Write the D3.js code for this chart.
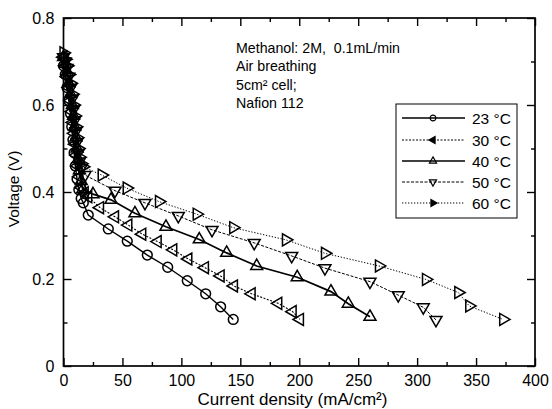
<!DOCTYPE html>
<html>
<head>
<meta charset="utf-8">
<script src="https://cdn.jsdelivr.net/npm/d3@7"></script>
<style>
  html, body { margin: 0; padding: 0; background: #fff; }
  svg { display: block; font-family: "Liberation Sans", Arial, sans-serif; }
</style>
</head>
<body>
<svg id="chart" width="552" height="409"></svg>
<script>
// Polarization curves of an air-breathing DMFC at several cell temperatures
const seriesNames = ["23 °C", "30 °C", "40 °C", "50 °C", "60 °C"];

const t23 = [[0,0.69],[1.5,0.67],[3,0.64],[4.5,0.61],[6,0.58],[7,0.55],[8,0.52],[9,0.49],[10,0.46],[11.5,0.43],[13,0.405],[15,0.385],[16.8,0.375],
  [21,0.347],[38,0.315],[54.1,0.287],[71.1,0.255],[88.4,0.227],[105,0.196],[120.6,0.166],[133.3,0.136],[144,0.107]];
const t30 = [[0,0.71],[1.5,0.69],[3,0.665],[4.5,0.64],[6,0.61],[7,0.585],[8,0.56],[9,0.535],[10,0.51],[11,0.485],[12,0.46],[13.5,0.435],[15.5,0.41],[18,0.398],
  [21,0.389],[31,0.364],[43.7,0.343],[55,0.324],[66.8,0.303],[79.9,0.286],[93.1,0.267],[105.9,0.246],[120,0.226],[133.3,0.207],[144.6,0.184],[159.6,0.166],[182.2,0.144],[194.4,0.125],[200.6,0.107]];
const t40 = [[0,0.71],[1.5,0.695],[3,0.675],[4.5,0.65],[6,0.625],[7.5,0.60],[8.5,0.575],[9.5,0.55],[10.5,0.525],[11.5,0.50],[12.5,0.475],[13.5,0.45],[15,0.425],[16.3,0.406],
  [25,0.395],[40.3,0.382],[60.6,0.351],[86.9,0.320],[115.2,0.291],[138.4,0.260],[163.9,0.230],[198.3,0.204],[226.9,0.171],[241.6,0.143],[260,0.113]];
const t50 = [[0,0.71],[1.5,0.70],[3,0.685],[4.5,0.665],[6,0.64],[7.5,0.615],[8.5,0.59],[9.5,0.565],[10.5,0.54],[11.5,0.515],[12.5,0.49],[13.5,0.47],[15,0.455],[18.2,0.439],
  [43.7,0.403],[69.1,0.375],[97.4,0.345],[126,0.313],[161.8,0.283],[193.6,0.253],[221.8,0.225],[260,0.194],[284,0.163],[305.2,0.135],[316,0.106]];
const t60 = [[0,0.72],[1.5,0.705],[3,0.69],[4.5,0.67],[6,0.65],[7.5,0.625],[8.5,0.60],[9.5,0.575],[10.5,0.55],[11.5,0.525],[12.5,0.50],[13.5,0.48],[15,0.465],[16.5,0.458],
  [32.4,0.439],[53.6,0.409],[81,0.378],[113,0.349],[144,0.318],[188.7,0.290],[221.8,0.259],[267.6,0.230],[307.5,0.199],[334.9,0.169],[344.2,0.138],[373,0.107]];

const xTicks = [0, 50, 100, 150, 200, 250, 300, 350, 400];
const yTicks = [0, 0.2, 0.4, 0.6, 0.8];
const noteLines = ["Methanol: 2M,  0.1mL/min", "Air breathing", "5cm² cell;", "Nafion 112"];

const allSeries = [t23, t30, t40, t50, t60];
const dashes = [null, "2,1.5", null, "3,1.5", "1.3,1.7"];
const widths = [1.4, 1.1, 1.7, 1.0, 1.0];
// marker: symbol type and rotation (degrees)
const markerDefs = [
  {type: d3.symbolCircle, rot: 0, size: 75},
  {type: d3.symbolTriangle, rot: -90, size: 62},
  {type: d3.symbolTriangle, rot: 0, size: 62},
  {type: d3.symbolTriangle, rot: 180, size: 62},
  {type: d3.symbolTriangle, rot: 90, size: 62}
];

const svg = d3.select("#chart");
const m = {left: 63.5, right: 535, top: 18, bottom: 366};
const x = d3.scaleLinear().domain([0, 400]).range([m.left, m.right]);
const y = d3.scaleLinear().domain([0, 0.8]).range([m.bottom, m.top]);

// Frame
svg.append("rect").attr("x", m.left).attr("y", m.top)
  .attr("width", m.right - m.left).attr("height", m.bottom - m.top)
  .attr("fill", "none").attr("stroke", "#000").attr("stroke-width", 1.7);

function styleAxis(g) {
  g.select(".domain").remove();
  g.selectAll("line").attr("stroke", "#000").attr("stroke-width", 1.4);
}
const labelStyle = size => g => g.selectAll("text").attr("font-size", size).attr("fill", "#000")
  .attr("font-family", "Liberation Sans, Arial, sans-serif");

const xMinor = d3.range(0, 401, 25).filter(v => v % 50 !== 0);
const yMinor = [0.1, 0.3, 0.5, 0.7];

// Bottom axis with inward ticks
svg.append("g").attr("transform", `translate(0,${m.bottom})`)
  .call(d3.axisBottom(x).tickValues(xTicks).tickSize(-8).tickPadding(9).tickFormat(d3.format("d")))
  .call(styleAxis).call(labelStyle(16));
svg.append("g").attr("transform", `translate(0,${m.bottom})`)
  .call(d3.axisBottom(x).tickValues(xMinor).tickSize(-4).tickFormat(""))
  .call(styleAxis);
// Top axis mirror
svg.append("g").attr("transform", `translate(0,${m.top})`)
  .call(d3.axisTop(x).tickValues(xTicks).tickSize(-8).tickFormat(""))
  .call(styleAxis);
svg.append("g").attr("transform", `translate(0,${m.top})`)
  .call(d3.axisTop(x).tickValues(xMinor).tickSize(-4).tickFormat(""))
  .call(styleAxis);

// Left axis
svg.append("g").attr("transform", `translate(${m.left},0)`)
  .call(d3.axisLeft(y).tickValues(yTicks).tickSize(-8).tickPadding(9).tickFormat(d => d === 0 ? "0" : d3.format(".1f")(d)))
  .call(styleAxis).call(labelStyle(16));
svg.append("g").attr("transform", `translate(${m.left},0)`)
  .call(d3.axisLeft(y).tickValues(yMinor).tickSize(-4).tickFormat(""))
  .call(styleAxis);
// Right axis mirror
svg.append("g").attr("transform", `translate(${m.right},0)`)
  .call(d3.axisRight(y).tickValues(yTicks).tickSize(-8).tickFormat(""))
  .call(styleAxis);
svg.append("g").attr("transform", `translate(${m.right},0)`)
  .call(d3.axisRight(y).tickValues(yMinor).tickSize(-4).tickFormat(""))
  .call(styleAxis);

// Axis titles
svg.append("text").attr("x", 292.5).attr("y", 405)
  .attr("text-anchor", "middle").attr("font-size", 17).attr("fill", "#000")
  .text("Current density (mA/cm²)");
svg.append("text").attr("transform", `translate(19,189) rotate(-90)`)
  .attr("text-anchor", "middle").attr("font-size", 15.5).attr("fill", "#000")
  .text("Voltage (V)");

// Curves
const line = d3.line().x(d => x(d[0])).y(d => y(d[1]));
allSeries.forEach((data, i) => {
  svg.append("path").datum(data).attr("d", line)
    .attr("fill", "none").attr("stroke", "#000")
    .attr("stroke-width", widths[i])
    .attr("stroke-dasharray", dashes[i]);
  const md = markerDefs[i];
  const sym = d3.symbol().type(md.type).size(md.size);
  svg.append("g").selectAll("path").data(data).join("path")
    .attr("d", sym)
    .attr("transform", d => `translate(${x(d[0])},${y(d[1])}) rotate(${md.rot})`)
    .attr("fill", "none").attr("stroke", "#000").attr("stroke-width", 1.5);
});

// Annotation
const note = svg.append("text").attr("font-size", 14.2).attr("fill", "#000")
  .style("white-space", "pre");
noteLines.forEach((t, i) => {
  note.append("tspan").attr("x", 236).attr("y", 53 + i * 18.3).text(t);
});

// Legend
const lg = svg.append("g");
lg.append("rect").attr("x", 396).attr("y", 104).attr("width", 121).attr("height", 114)
  .attr("fill", "#fff").attr("stroke", "#000").attr("stroke-width", 1);
const legendY = [118, 140, 161, 182, 203];
seriesNames.forEach((name, i) => {
  const ly = legendY[i];
  lg.append("line").attr("x1", 402).attr("x2", 465).attr("y1", ly).attr("y2", ly)
    .attr("stroke", "#000").attr("stroke-width", widths[i])
    .attr("stroke-dasharray", dashes[i]);
  const md = markerDefs[i];
  lg.append("path").attr("d", d3.symbol().type(md.type).size(md.size * 0.35)())
    .attr("transform", `translate(433,${ly}) rotate(${md.rot})`)
    .attr("fill", i === 1 || i === 4 ? "#000" : "none").attr("stroke", "#000").attr("stroke-width", 1.2);
  lg.append("text").attr("x", 472).attr("y", ly + 5.5).attr("font-size", 15.5).attr("fill", "#000").text(name);
});
</script>
</body>
</html>
